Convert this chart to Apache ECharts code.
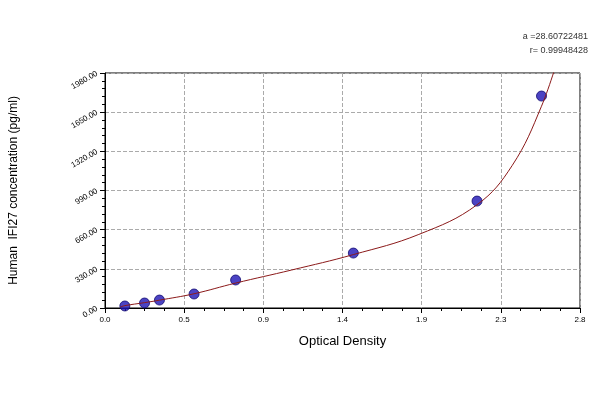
<!DOCTYPE html><html><head><meta charset="utf-8"><script src="https://cdn.jsdelivr.net/npm/echarts@6/dist/echarts.min.js"></script></head><body style="margin:0;background:#fff"><div id="c" style="width:600px;height:400px"></div><script>
const xTicks=[0.0,0.5,0.9,1.4,1.9,2.3,2.8];
const yTicks=['0.00','330.00','660.00','990.00','1320.00','1650.00','1980.00'];
const od=[0.117,0.233,0.321,0.525,0.77,1.464,2.193,2.573];
const conc=[17,42,67,118,236,463,901,1786];
const curveX=[0.09,0.117,0.233,0.321,0.525,0.77,1.1,1.464,1.85,2.193,2.4,2.573,2.68];
const curveY=[8,20,45,66,120,210,320,450,620,870,1200,1700,2150];
const c=echarts.init(document.getElementById('c'));
c.setOption({animation:false,
grid:{left:100,right:20,top:73,bottom:92,show:true,borderColor:'#000',borderWidth:1},
graphic:[{type:'text',right:12,top:32,style:{text:'a =28.60722481',font:'9px Arial',fill:'#333'}},
{type:'text',right:12,top:46,style:{text:'r= 0.99948428',font:'9px Arial',fill:'#333'}}],
xAxis:{type:'value',min:0,max:2.8,interval:2.8/6,name:'Optical Density',nameLocation:'middle',nameGap:27,
nameTextStyle:{fontSize:13,fontFamily:'Arial',color:'#000'},
axisLine:{lineStyle:{color:'#000'}},axisTick:{lineStyle:{color:'#000'}},minorTick:{show:true,splitNumber:4,lineStyle:{color:'#000'}},
axisLabel:{fontSize:8,color:'#000',formatter:(v)=>{const i=Math.round(v/(2.8/6));return xTicks[i]!==undefined?xTicks[i].toFixed(1):'';}},
splitLine:{show:true,lineStyle:{type:'dashed',color:'#aaa'}}},
yAxis:{type:'value',min:0,max:1980,interval:330,name:'Human  IFI27 concentration (pg/ml)',nameLocation:'middle',nameGap:85,
nameTextStyle:{fontSize:12,fontFamily:'Arial',color:'#000'},
axisLine:{show:true,lineStyle:{color:'#000'}},axisTick:{show:true,lineStyle:{color:'#000'}},minorTick:{show:true,splitNumber:5,lineStyle:{color:'#000'}},
axisLabel:{fontSize:8,color:'#000',rotate:30,formatter:(v)=>yTicks[Math.round(v/330)]},
splitLine:{show:true,lineStyle:{type:'dashed',color:'#aaa'}}},
series:[{type:'line',smooth:0.4,showSymbol:false,clip:true,data:curveX.map((x,i)=>[x,curveY[i]]),lineStyle:{color:'#8b1a1a',width:1}},
{type:'scatter',symbolSize:10,data:od.map((x,i)=>[x,conc[i]]),itemStyle:{color:'#1e14b4',borderColor:'#120a70',borderWidth:1}}]
});
</script></body></html>
